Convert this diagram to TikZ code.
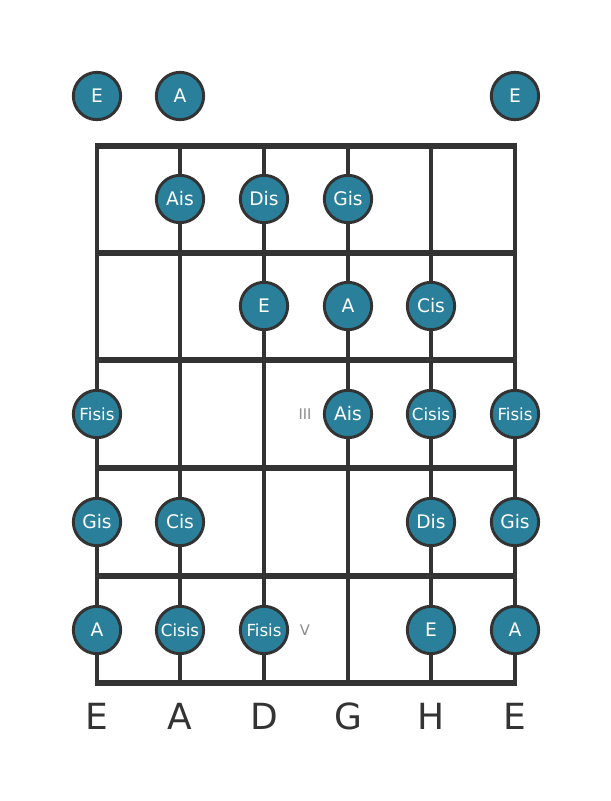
\documentclass[tikz,border=0pt]{standalone}
\usepackage{fontspec}
\setmainfont{DejaVu Sans}
\definecolor{notefill}{RGB}{42,127,155}
\definecolor{linegray}{RGB}{51,51,51}
\definecolor{markgray}{RGB}{140,140,140}
\begin{document}
\begin{tikzpicture}[
        x                       = 0.75pt,
        y                       = -0.75pt,
        string/.style           = {draw=linegray, line width=2.4pt},
        fret/.style             = {draw=linegray, line width=3.8pt},
        note/.style             = {circle, draw=linegray, line width=2.2pt, fill=notefill,
                                   minimum size=35.5pt, inner sep=0pt, text=white, font=\fontsize{14}{14}\selectfont},
        longnote/.style         = {note, font=\fontsize{12.5}{12.5}\selectfont},
        position/.style         = {text=markgray, font=\fontsize{11}{11}\selectfont},
        stringname/.style       = {text=linegray, font=\fontsize{27}{27}\selectfont},
      ]
        \useasboundingbox[fill=white] (0,0) rectangle (611,801);
        % strings
        \foreach \x in {97,180,264,348,431,515}
            \draw[string] (\x,146) -- (\x,683);
        % frets
        \foreach \y in {146,253,360,468,576,683}
            \draw[fret] (95.4,\y) -- (516.6,\y);
        % open strings
        \node[note] (o1) at (97,96) {E};
        \node[note] (o2) at (180,96) {A};
        \node[note] (o6) at (515,96) {E};
        % fret 1
        \node[note] (a2) at (180,199) {Ais};
        \node[note] (a3) at (264,199) {Dis};
        \node[note] (a4) at (348,199) {Gis};
        % fret 2
        \node[note] (b3) at (264,306) {E};
        \node[note] (b4) at (348,306) {A};
        \node[note] (b5) at (431,306) {Cis};
        % fret 3
        \node[longnote] (c1) at (97,414) {Fisis};
        \node[note] (c4) at (348,414) {Ais};
        \node[longnote] (c5) at (431,414) {Cisis};
        \node[longnote] (c6) at (515,414) {Fisis};
        \node[position] (p3) at (305,414) {III};
        % fret 4
        \node[note] (d1) at (97,522) {Gis};
        \node[note] (d2) at (180,522) {Cis};
        \node[note] (d5) at (431,522) {Dis};
        \node[note] (d6) at (515,522) {Gis};
        % fret 5
        \node[note] (e1) at (97,630) {A};
        \node[longnote] (e2) at (180,630) {Cisis};
        \node[longnote] (e3) at (264,630) {Fisis};
        \node[note] (e5) at (431,630) {E};
        \node[note] (e6) at (515,630) {A};
        \node[position] (p5) at (305,630) {V};
        % string names
        \node[stringname] (s1) at (97,716) {E};
        \node[stringname] (s2) at (180,716) {A};
        \node[stringname] (s3) at (264,716) {D};
        \node[stringname] (s4) at (348,716) {G};
        \node[stringname] (s5) at (431,716) {H};
        \node[stringname] (s6) at (515,716) {E};
    \end{tikzpicture}
\end{document}
